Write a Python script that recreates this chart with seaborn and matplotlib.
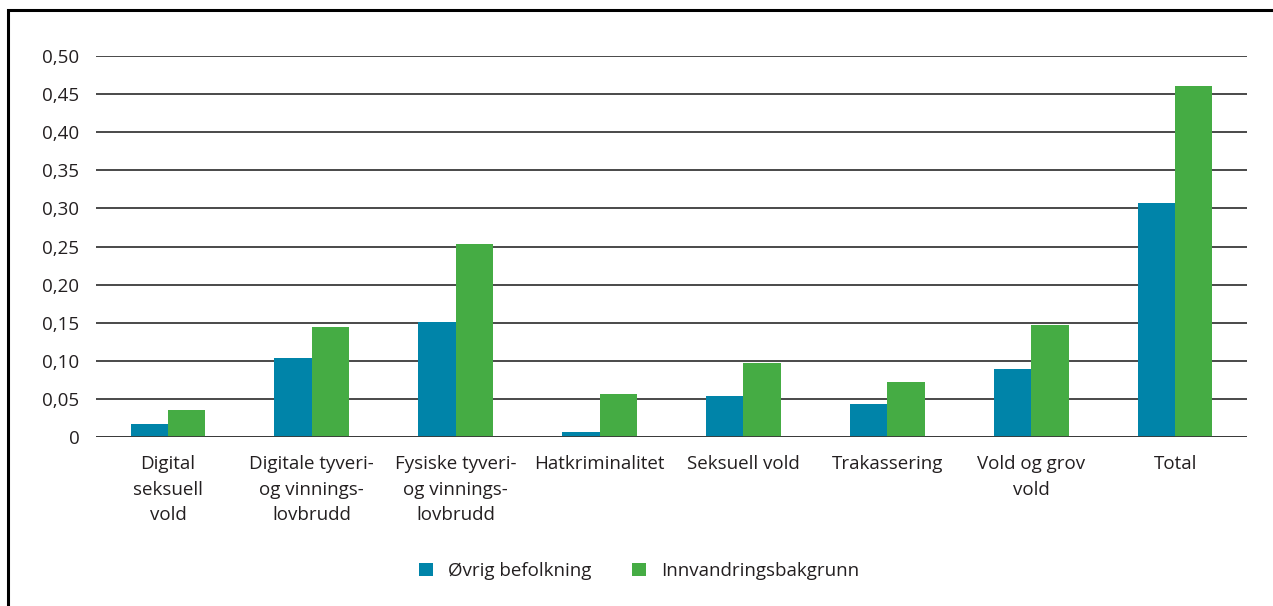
import matplotlib
matplotlib.use("Agg")
import matplotlib.pyplot as plt
import seaborn as sns
import pandas as pd
from matplotlib.patches import Rectangle
from matplotlib.ticker import FuncFormatter

categories = ["Digital\nseksuell\nvold", "Digitale tyveri-\nog vinnings-\nlovbrudd",
              "Fysiske tyveri-\nog vinnings-\nlovbrudd", "Hatkriminalitet", "Seksuell vold",
              "Trakassering", "Vold og grov\nvold", "Total"]
series_names = ["Øvrig befolkning", "Innvandringsbakgrunn"]
ovrig = [0.017, 0.104, 0.151, 0.007, 0.054, 0.043, 0.089, 0.307]
innvandring = [0.035, 0.144, 0.253, 0.056, 0.097, 0.072, 0.147, 0.461]
yticks = [0, 0.05, 0.10, 0.15, 0.20, 0.25, 0.30, 0.35, 0.40, 0.45, 0.50]
colors = ["#0084A9", "#45AC44"]

df = pd.DataFrame({
    "kategori": categories * 2,
    "gruppe": [series_names[0]] * len(categories) + [series_names[1]] * len(categories),
    "verdi": ovrig + innvandring,
})

sns.set_theme(style="white")
plt.rcParams["font.family"] = ["Open Sans", "DejaVu Sans"]
text_color = "#231F20"
fs = 13.5

fig = plt.figure(figsize=(12.73, 6.06), dpi=100)
ax = fig.add_axes([96 / 1273, 1 - 437 / 606, (1247 - 96) / 1273, (437 - 56) / 606])

for y in yticks:
    ax.axhline(y, color="#3a3a3a", lw=1.3, zorder=0)

sns.barplot(data=df, x="kategori", y="verdi", hue="gruppe", order=categories,
            hue_order=series_names, palette=colors, width=0.52, saturation=1,
            edgecolor="none", ax=ax, zorder=2, legend=True)
ax.axhline(0, color="#3a3a3a", lw=1.3, zorder=3)

ax.set_ylim(0, 0.5)
ax.set_xlim(-0.5, 7.5)
ax.set_yticks(yticks)
ax.yaxis.set_major_formatter(FuncFormatter(lambda v, p: "0" if v == 0 else f"{v:.2f}".replace(".", ",")))
ax.set_xlabel("")
ax.set_ylabel("")
for s in ax.spines.values():
    s.set_visible(False)
ax.tick_params(axis="y", length=0, pad=12, labelsize=fs, labelcolor=text_color)
ax.tick_params(axis="x", length=0, pad=13, labelsize=fs, labelcolor=text_color)
for lbl in ax.get_xticklabels():
    lbl.set_linespacing(1.55)
    lbl.set_verticalalignment("top")

handles, labels = ax.get_legend_handles_labels()
ax.get_legend().remove()
fig.legend(handles, labels, loc="center", bbox_to_anchor=(0.502, 1 - 571 / 606), ncol=2,
           frameon=False, fontsize=fs, handlelength=0.75, handleheight=0.75,
           handletextpad=0.8, columnspacing=2.2, labelcolor=text_color)

fig.patches.append(Rectangle((8 / 1273, -0.1), 1.2, 1 - 10 / 606 + 0.1,
                             transform=fig.transFigure, fill=False,
                             edgecolor="black", lw=2.2, zorder=10))

fig.savefig("out.png", dpi=100)
